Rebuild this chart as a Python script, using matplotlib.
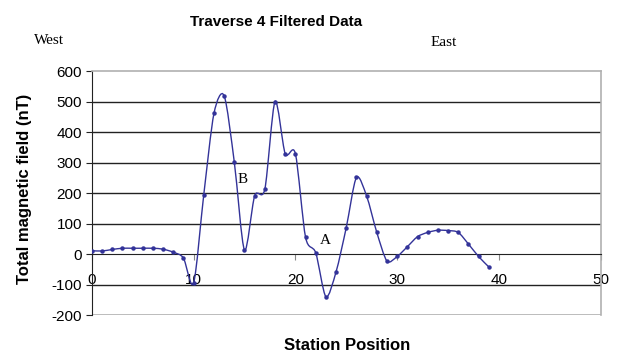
import matplotlib
matplotlib.use("Agg")
import matplotlib.pyplot as plt
from matplotlib.path import Path
from matplotlib.patches import PathPatch

# station positions and filtered total-field readings (nT)
station = list(range(0, 40))
field = [11, 10, 15, 19, 19, 19, 19, 16, 6, -13,
         -95, 195, 461, 519, 301, 13, 191, 213, 500, 329,
         329, 55, 4, -140, -58, 87, 251, 190, 71, -23,
         -8, 24, 57, 71, 78, 77, 71, 33, -8, -42]

xticks = [0, 10, 20, 30, 40, 50]
yticks = [-200, -100, 0, 100, 200, 300, 400, 500, 600]

line_col = "#333399"


def smooth_path(xs, ys, k=0.14):
    # cubic bezier through every point, tangents taken from neighbours
    pts = list(zip(xs, ys))
    n = len(pts)
    verts = [pts[0]]
    codes = [Path.MOVETO]
    for i in range(n - 1):
        p0 = pts[i - 1] if i > 0 else pts[i]
        p1 = pts[i]
        p2 = pts[i + 1]
        p3 = pts[i + 2] if i + 2 < n else pts[i + 1]
        c1 = (p1[0] + (p2[0] - p0[0]) * k, p1[1] + (p2[1] - p0[1]) * k)
        c2 = (p2[0] - (p3[0] - p1[0]) * k, p2[1] - (p3[1] - p1[1]) * k)
        verts += [c1, c2, p2]
        codes += [Path.CURVE4] * 3
    return Path(verts, codes)


plt.rcParams['font.family'] = ['Liberation Sans', 'DejaVu Sans']
plt.rcParams['axes.unicode_minus'] = False

fig = plt.figure(figsize=(6.29, 3.54), dpi=100)
ax = fig.add_axes([0.146, 0.110, 0.809, 0.6894])

ax.set_xlim(0, 50)
ax.set_ylim(-200, 600)

for y in yticks[1:-1]:
    if y != 0:
        ax.axhline(y, color="#222222", lw=1.0, zorder=1)
ax.axhline(-200, color="#b0b0b0", lw=1.2, zorder=1)

ax.add_patch(PathPatch(smooth_path(station, field), facecolor="none",
                       edgecolor=line_col, lw=1.0, zorder=3))
ax.plot(station, field, linestyle="none", marker="o", ms=2.2,
        color=line_col, zorder=4)

ax.spines['bottom'].set_position(('data', 0))
ax.spines['bottom'].set_color("#222222")
ax.spines['left'].set_color("#222222")
ax.spines['top'].set_color("#b0b0b0")
ax.spines['right'].set_color("#b0b0b0")
ax.spines['top'].set_linewidth(1.2)
ax.spines['right'].set_linewidth(1.2)

ax.set_xticks(xticks)
ax.set_yticks(yticks)
ax.tick_params(axis='x', direction='out', length=4, pad=10, labelsize=11,
               color="#888888")
ax.tick_params(axis='y', direction='out', length=4, pad=3, labelsize=11,
               color="#222222")

ax.text(14.8, 243, "B", family="Liberation Serif", fontsize=11,
        ha="center", va="center")
ax.text(22.9, 46, "A", family="Liberation Serif", fontsize=11,
        ha="center", va="center")

fig.text(276 / 629, 1 - 22 / 354, "Traverse 4 Filtered Data", fontsize=11,
         fontweight="bold", ha="center", va="center")
fig.text(34 / 629, 1 - 40 / 354, "West", family="Liberation Serif",
         fontsize=11, ha="left", va="center")
fig.text(431 / 629, 1 - 43 / 354, "East", family="Liberation Serif",
         fontsize=11, ha="left", va="center")
fig.text(25 / 629, 1 - 189 / 354, "Total magnetic field (nT)", fontsize=12,
         fontweight="bold", rotation=90, ha="center", va="center")
fig.text(347 / 629, 1 - 346 / 354, "Station Position", fontsize=12,
         fontweight="bold", ha="center", va="center")

fig.savefig("out.png", dpi=100)
